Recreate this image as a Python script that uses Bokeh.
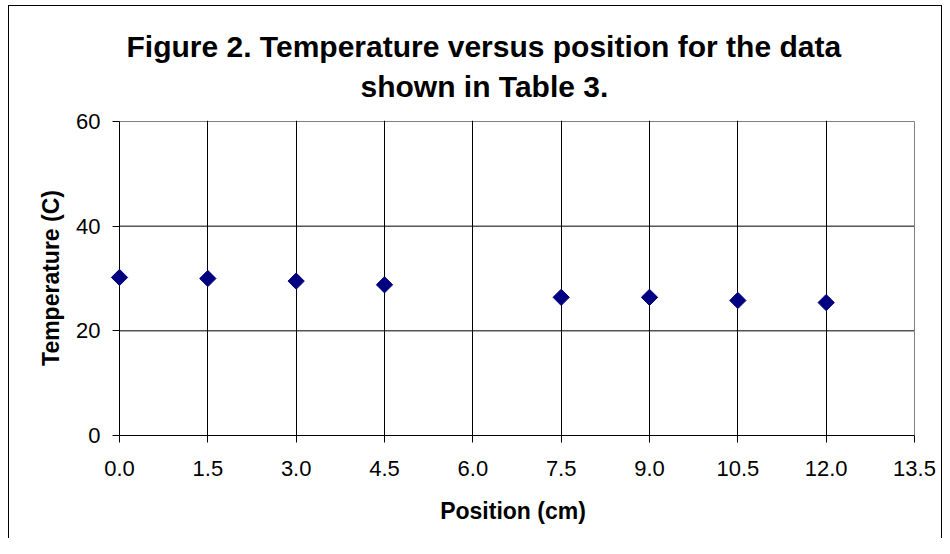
from bokeh.plotting import figure
from bokeh.models import Range1d, FixedTicker, PrintfTickFormatter, Title
from bokeh.embed import file_html
from bokeh.resources import INLINE
import numpy as np

# Data
position_cm = [0.0, 1.5, 3.0, 4.5, 7.5, 9.0, 10.5, 12.0]
temperature_c = [30.2, 30.0, 29.5, 28.8, 26.4, 26.4, 25.8, 25.4]
x_ticks = [0.0, 1.5, 3.0, 4.5, 6.0, 7.5, 9.0, 10.5, 12.0, 13.5]
y_ticks = [0, 20, 40, 60]

title_line1 = "Figure 2. Temperature versus position for the data"
title_line2 = "shown in Table 3."

FONT = "Liberation Sans"

X_MIN, X_MAX = x_ticks[0], x_ticks[-1]
Y_MIN, Y_MAX = y_ticks[0], y_ticks[-1]

# pixel geometry of the plot area
PLOT_W, PLOT_H = 795, 314
PAD_L = 9   # room so the first marker is not clipped
PAD_T = 1
PAD_R = 1
ux = (X_MAX - X_MIN) / PLOT_W
uy = (Y_MAX - Y_MIN) / PLOT_H

p = figure(
    output_backend="svg", toolbar_location=None,
    frame_width=PLOT_W + PAD_L + PAD_R, frame_height=PLOT_H + PAD_T,
    min_border_left=110, min_border_right=27, min_border_top=120, min_border_bottom=103,
    x_range=Range1d(X_MIN - PAD_L * ux, X_MAX + PAD_R * ux),
    y_range=Range1d(Y_MIN, Y_MAX + PAD_T * uy),
    title=None,
)

p.background_fill_color = "white"
p.border_fill_color = None
p.outline_line_color = None

# outer chart border (left, top, right) drawn as CSS background lines behind the canvas
p.styles = {
    "background-color": "white",
    "background-image": "linear-gradient(black, black), linear-gradient(black, black), linear-gradient(black, black)",
    "background-size": "1px 100%, 934px 1px, 1px 100%",
    "background-position": "8px 5px, 8px 5px, 941px 5px",
    "background-repeat": "no-repeat",
}

# titles (first added sits closest to the frame)
t2 = Title(text=title_line2, align="left", offset=250, text_font=FONT,
           text_font_size="30px", text_font_style="bold", text_color="black", standoff=35)
t1 = Title(text=title_line1, align="left", offset=16, text_font=FONT,
           text_font_size="30px", text_font_style="bold", text_color="black", standoff=-24)
p.add_layout(t2, "above")
p.add_layout(t1, "above")

# axes
for ax in (p.xaxis[0], p.yaxis[0]):
    ax.axis_line_color = "black"
    ax.major_tick_line_color = "black"
    ax.major_tick_out = 7
    ax.major_tick_in = 0
    ax.minor_tick_line_color = None
    ax.major_label_text_font = FONT
    ax.major_label_text_font_size = "22px"
    ax.major_label_text_color = "black"
    ax.axis_label_text_font = FONT
    ax.axis_label_text_font_size = "23px"
    ax.axis_label_text_font_style = "bold"
    ax.axis_label_text_color = "black"

p.xaxis.ticker = FixedTicker(ticks=x_ticks)
p.xaxis.bounds = (X_MIN, X_MAX)
p.xaxis.formatter = PrintfTickFormatter(format="%.1f")
p.xaxis.axis_label = "Position (cm)"
p.xaxis.major_label_standoff = 18
p.xaxis.axis_label_standoff = 19

# y axis sits at the frame edge; its ticks reach in to x = 0
p.yaxis.ticker = FixedTicker(ticks=y_ticks)
p.yaxis.axis_line_color = None
p.yaxis.major_tick_in = PAD_L
p.yaxis.major_tick_out = -2
p.yaxis.axis_label = "Temperature (C)"
p.yaxis.major_label_standoff = 10
p.yaxis.axis_label_standoff = 9

# grid: vertical lines from the axis ticker, horizontal lines limited to the plot area
p.xgrid.ticker = FixedTicker(ticks=x_ticks[1:-1])
p.xgrid.grid_line_color = "black"
p.xgrid.grid_line_width = 1
p.ygrid.grid_line_color = None

inner_y = y_ticks[1:-1]
p.segment(x0=[X_MIN] * len(inner_y), x1=[X_MAX] * len(inner_y), y0=inner_y, y1=inner_y,
          line_color="black", line_width=1, level="underlay")
# plot-area border (top and right), grey as in the original
p.segment(x0=[X_MIN, X_MAX], x1=[X_MAX, X_MAX], y0=[Y_MAX, Y_MAX], y1=[Y_MAX, Y_MIN],
          line_color="#808080", line_width=1, level="underlay")
# y axis line at x = 0
p.segment(x0=[X_MIN], x1=[X_MIN], y0=[Y_MIN], y1=[Y_MAX], line_color="black", line_width=1)

r = p.scatter(position_cm, temperature_c, marker="square", size=11.5, angle=np.pi / 4,
              fill_color="#000080", line_color="#000080")
r.level = "overlay"

open("out.html", "w").write(file_html(p, INLINE))
